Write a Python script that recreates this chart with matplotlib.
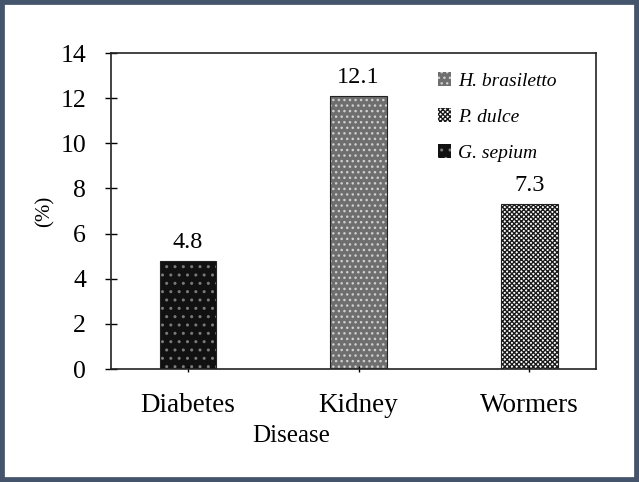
import matplotlib.pyplot as plt
from matplotlib.patches import Patch, Rectangle

plt.rcParams['font.family'] = ['Liberation Serif', 'DejaVu Serif']
plt.rcParams['hatch.linewidth'] = 1.0

# data
diseases = ["Diabetes", "Kidney", "Wormers"]
values = [4.8, 12.1, 7.3]
species = ["G. sepium", "H. brasiletto", "P. dulce"]
legend_order = ["H. brasiletto", "P. dulce", "G. sepium"]

# look per species: face, hatch colour, hatch
styles = {
    "G. sepium": ("#111111", "#7a7a7a", ".."),
    "H. brasiletto": ("#6e6e6e", "#cfcfcf", "..."),
    "P. dulce": ("#ffffff", "#1a1a1a", "xxxxxxx"),
}

fig = plt.figure(figsize=(6.39, 4.82), dpi=100)
ax = fig.add_axes([111/639, 1 - 369/482, (596-111)/639, (369-53)/482])

x = list(range(len(diseases)))
w = 0.33
for xi, v, sp in zip(x, values, species):
    face, hc, hatch = styles[sp]
    ax.bar(xi, v, w, color=face, edgecolor=hc, hatch=hatch, linewidth=0)
    ax.bar(xi, v, w, fill=False, edgecolor="#222222", linewidth=0.8)
    ax.text(xi, v + 0.35, f"{v}", ha="center", va="bottom", fontsize=17.5)

ax.set_xlim(-0.45, 2.39)
ax.set_ylim(0, 14)
ax.set_yticks(range(0, 15, 2))
ax.set_xticks(x)
ax.set_xticklabels(diseases)
ax.tick_params(axis="y", direction="inout", length=8, labelsize=18.5, width=1, pad=14)
ax.tick_params(axis="x", direction="inout", length=5, labelsize=19.5, width=1, pad=15)
for s in ax.spines.values():
    s.set_linewidth(1.2)
    s.set_color("#222222")

fig.text(45/639, 1 - 211/482, "(%)", rotation=90, ha="center", va="center", fontsize=15)
fig.text(291/639, 1 - 436/482, "Disease", ha="center", va="center", fontsize=18)

handles = []
for sp in legend_order:
    face, hc, hatch = styles[sp]
    handles.append(Patch(facecolor=face, edgecolor=hc, hatch=hatch, linewidth=0))
leg = ax.legend(handles, legend_order, loc="upper right", bbox_to_anchor=(0.955, 0.995),
                frameon=False, prop={"style": "italic", "size": 14},
                handlelength=0.7, handleheight=0.7, handletextpad=0.35, labelspacing=0.95)

# outer border
fig.patches.append(Rectangle((0, 0), 1, 1, transform=fig.transFigure, fill=False,
                             edgecolor="#44546a", linewidth=7, zorder=10))

fig.savefig("out.png", dpi=100)
